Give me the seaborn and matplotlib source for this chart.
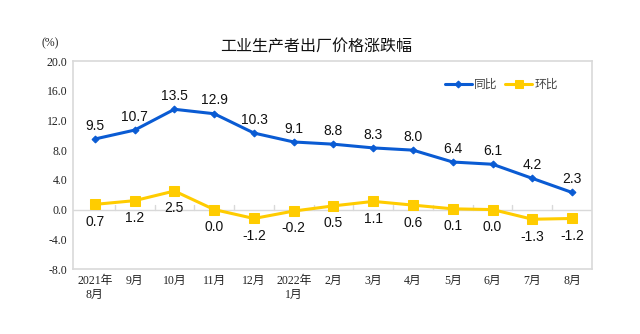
import matplotlib
matplotlib.use("Agg")
import matplotlib.pyplot as plt
import seaborn as sns
import pandas as pd
import numpy as np

months = ["2021年\n8月", "9月", "10月", "11月", "12月", "2022年\n1月", "2月", "3月",
          "4月", "5月", "6月", "7月", "8月"]
yoy = [9.5, 10.7, 13.5, 12.9, 10.3, 9.1, 8.8, 8.3, 8.0, 6.4, 6.1, 4.2, 2.3]
mom = [0.7, 1.2, 2.5, 0.0, -1.2, -0.2, 0.5, 1.1, 0.6, 0.1, 0.0, -1.3, -1.2]
yticks = [-8.0, -4.0, 0.0, 4.0, 8.0, 12.0, 16.0, 20.0]

sns.set_theme(style="white")
plt.rcParams['font.family'] = ['Liberation Sans', 'Noto Sans CJK SC']
serif = ['Liberation Serif', 'Noto Sans CJK SC']

BLUE = "#0A5BD3"
YELLOW = "#FFCC00"

idx = np.arange(len(months))
df = pd.DataFrame({"x": np.concatenate([idx, idx]),
                   "v": yoy + mom,
                   "s": ["同比"] * len(idx) + ["环比"] * len(idx)})

fig = plt.figure(figsize=(6.4, 3.34), dpi=100)
ax = fig.add_axes([73/640, 1-269/334, (592-73)/640, (269-61)/334])

sns.lineplot(data=df[df.s == "同比"], x="x", y="v", color=BLUE, lw=2.2,
             marker="D", markersize=3.5, markeredgecolor=BLUE, ax=ax, label="同比")
sns.lineplot(data=df[df.s == "环比"], x="x", y="v", color=YELLOW, lw=2.2,
             marker="s", markersize=7, markeredgecolor=YELLOW, ax=ax, label="环比")

ax.set_xlim(-0.55, 12.5)
ax.set_ylim(-8, 20)
ax.set_yticks(yticks)
ax.set_yticklabels([f"{t:.1f}" for t in yticks], family=serif, fontsize=8.5, color="#222222")
ax.set_xticks(idx)
ax.set_xticklabels(months, family=serif, fontsize=8.5, color="#222222", linespacing=1.3)
ax.tick_params(axis="both", length=0, pad=4)
ax.set_xlabel("")
ax.set_ylabel("")

for sp in ax.spines.values():
    sp.set_color("#D9D9D9")
    sp.set_linewidth(1.2)

ax.axhline(0, color="#D9D9D9", lw=1.0, zorder=1)
for b in idx[:-1] + 0.5:
    ax.plot([b, b], [0, 0.6], color="#D9D9D9", lw=1.0, zorder=1)

for i, v in enumerate(yoy):
    ax.annotate(f"{v:.1f}", (i, v), xytext=(0, 4.5), textcoords="offset points",
                ha="center", va="bottom", fontsize=10, color="#111111")
for i, v in enumerate(mom):
    ax.annotate(f"{v:.1f}", (i, v), xytext=(0, -7.5), textcoords="offset points",
                ha="center", va="top", fontsize=10, color="#111111")

leg = ax.legend(loc="upper right", bbox_to_anchor=(0.955, 0.97), ncol=2, frameon=False,
                handlelength=2.3, handletextpad=0.2, columnspacing=0.6,
                prop={'family': ['Noto Sans CJK SC'], 'size': 8.5})
for t in leg.get_texts():
    t.set_color("#444444")
hs = leg.legend_handles
hs[1].set_markersize(6)

fig.text(316/640, 1-47/334, "工业生产者出厂价格涨跌幅", ha="center", va="center",
         fontsize=11.5, family=['Noto Sans CJK SC'], color="#111111")
fig.text(50/640, 1-43/334, "(%)", ha="center", va="center", fontsize=8.5,
         family=serif, color="#222222")

fig.savefig("out.png", dpi=100, facecolor="white")
